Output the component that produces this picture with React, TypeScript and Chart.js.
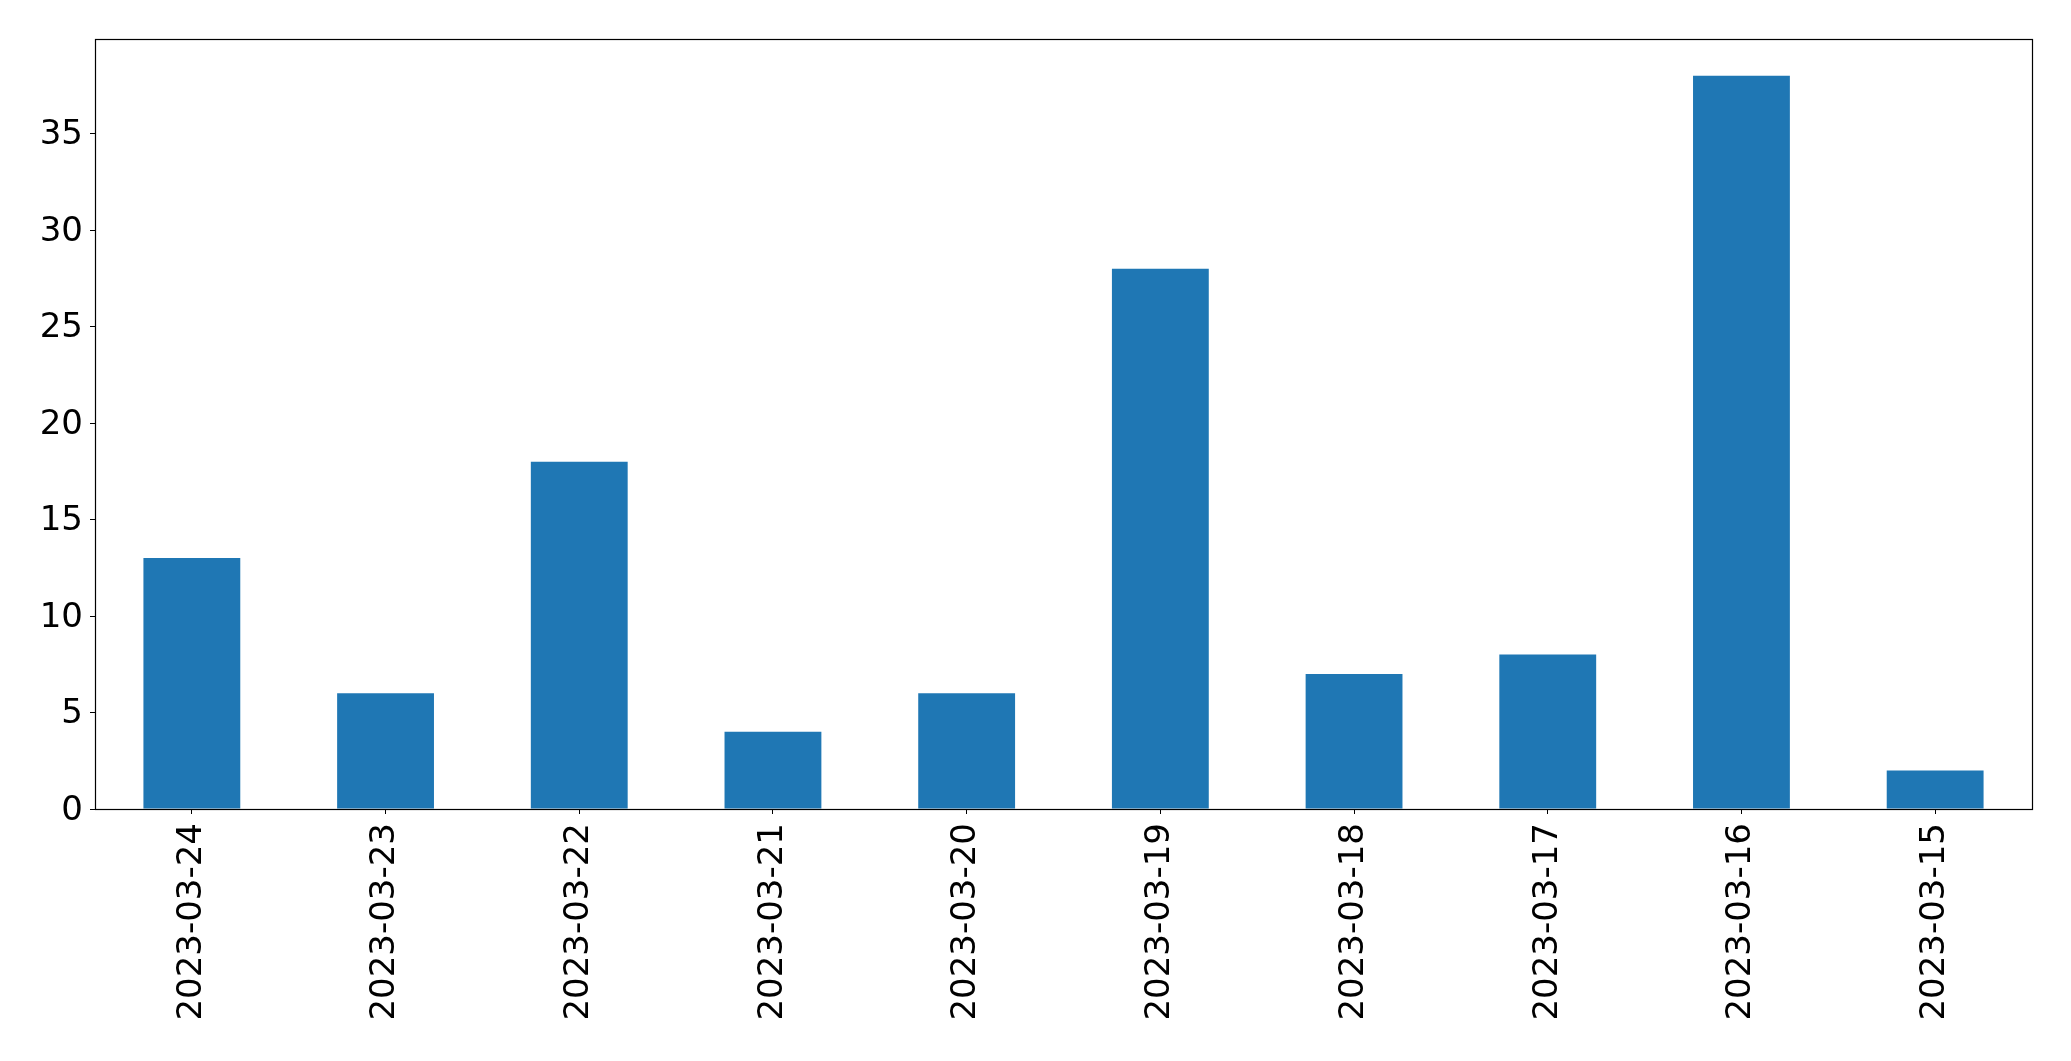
import React, { useEffect, useRef } from "react";
import { Chart, registerables } from "chart.js";

Chart.register(...registerables);

const categories = [
  "2023-03-24", "2023-03-23", "2023-03-22", "2023-03-21", "2023-03-20",
  "2023-03-19", "2023-03-18", "2023-03-17", "2023-03-16", "2023-03-15",
];
const counts = [13, 6, 18, 4, 6, 28, 7, 8, 38, 2];
const yTicks = [0, 5, 10, 15, 20, 25, 30, 35];
const yMax = 39.9;

const FONT = "'DejaVu Sans', sans-serif";

export default function App() {
  const ref = useRef<HTMLCanvasElement | null>(null);

  useEffect(() => {
    document.body.style.margin = "0";
    const canvas = ref.current!;
    const frame = {
      id: "frame",
      afterDraw(chart: any) {
        const { ctx, chartArea } = chart;
        ctx.save();
        ctx.strokeStyle = "#000";
        ctx.lineWidth = 1.2;
        ctx.strokeRect(
          Math.round(chartArea.left) + 0.5,
          Math.round(chartArea.top) + 0.5,
          Math.round(chartArea.right - chartArea.left),
          Math.round(chartArea.bottom - chartArea.top)
        );
        ctx.restore();
      },
    };
    const chart = new Chart(canvas, {
      type: "bar",
      data: {
        labels: categories,
        datasets: [
          {
            data: counts,
            backgroundColor: "#1f77b4",
            borderWidth: 0,
            categoryPercentage: 1,
            barPercentage: 0.5,
          },
        ],
      },
      plugins: [frame],
      options: {
        animation: false,
        responsive: false,
        devicePixelRatio: 1,
        layout: { padding: { left: 0, top: 39, right: 39, bottom: 0 } },
        plugins: {
          legend: { display: false },
          tooltip: { enabled: false },
        },
        scales: {
          x: {
            type: "category",
            offset: true,
            grid: {
              display: true,
              drawOnChartArea: false,
              drawTicks: true,
              tickLength: 5,
              color: "#000",
              lineWidth: 1,
              offset: false,
            },
            border: { display: true, color: "#000", width: 1 },
            ticks: {
              color: "#000",
              font: { family: FONT, size: 34 },
              minRotation: 90,
              maxRotation: 90,
              autoSkip: false,
              padding: 9,
            },
            afterFit: (s: any) => {
              s.height = 252;
            },
          },
          y: {
            type: "linear",
            min: 0,
            max: yMax,
            grid: {
              display: true,
              drawOnChartArea: false,
              drawTicks: true,
              tickLength: 5,
              color: "#000",
              lineWidth: 1,
            },
            border: { display: true, color: "#000", width: 1 },
            ticks: {
              color: "#000",
              font: { family: FONT, size: 34 },
              padding: 7,
              labelOffset: 2,
            },
            afterBuildTicks: (s: any) => {
              s.ticks = yTicks.map((v) => ({ value: v }));
            },
            afterFit: (s: any) => {
              s.width = 95;
            },
          },
        },
      },
    });
    return () => chart.destroy();
  }, []);

  return <canvas ref={ref} width={2071} height={1061} style={{ display: "block" }} />;
}
